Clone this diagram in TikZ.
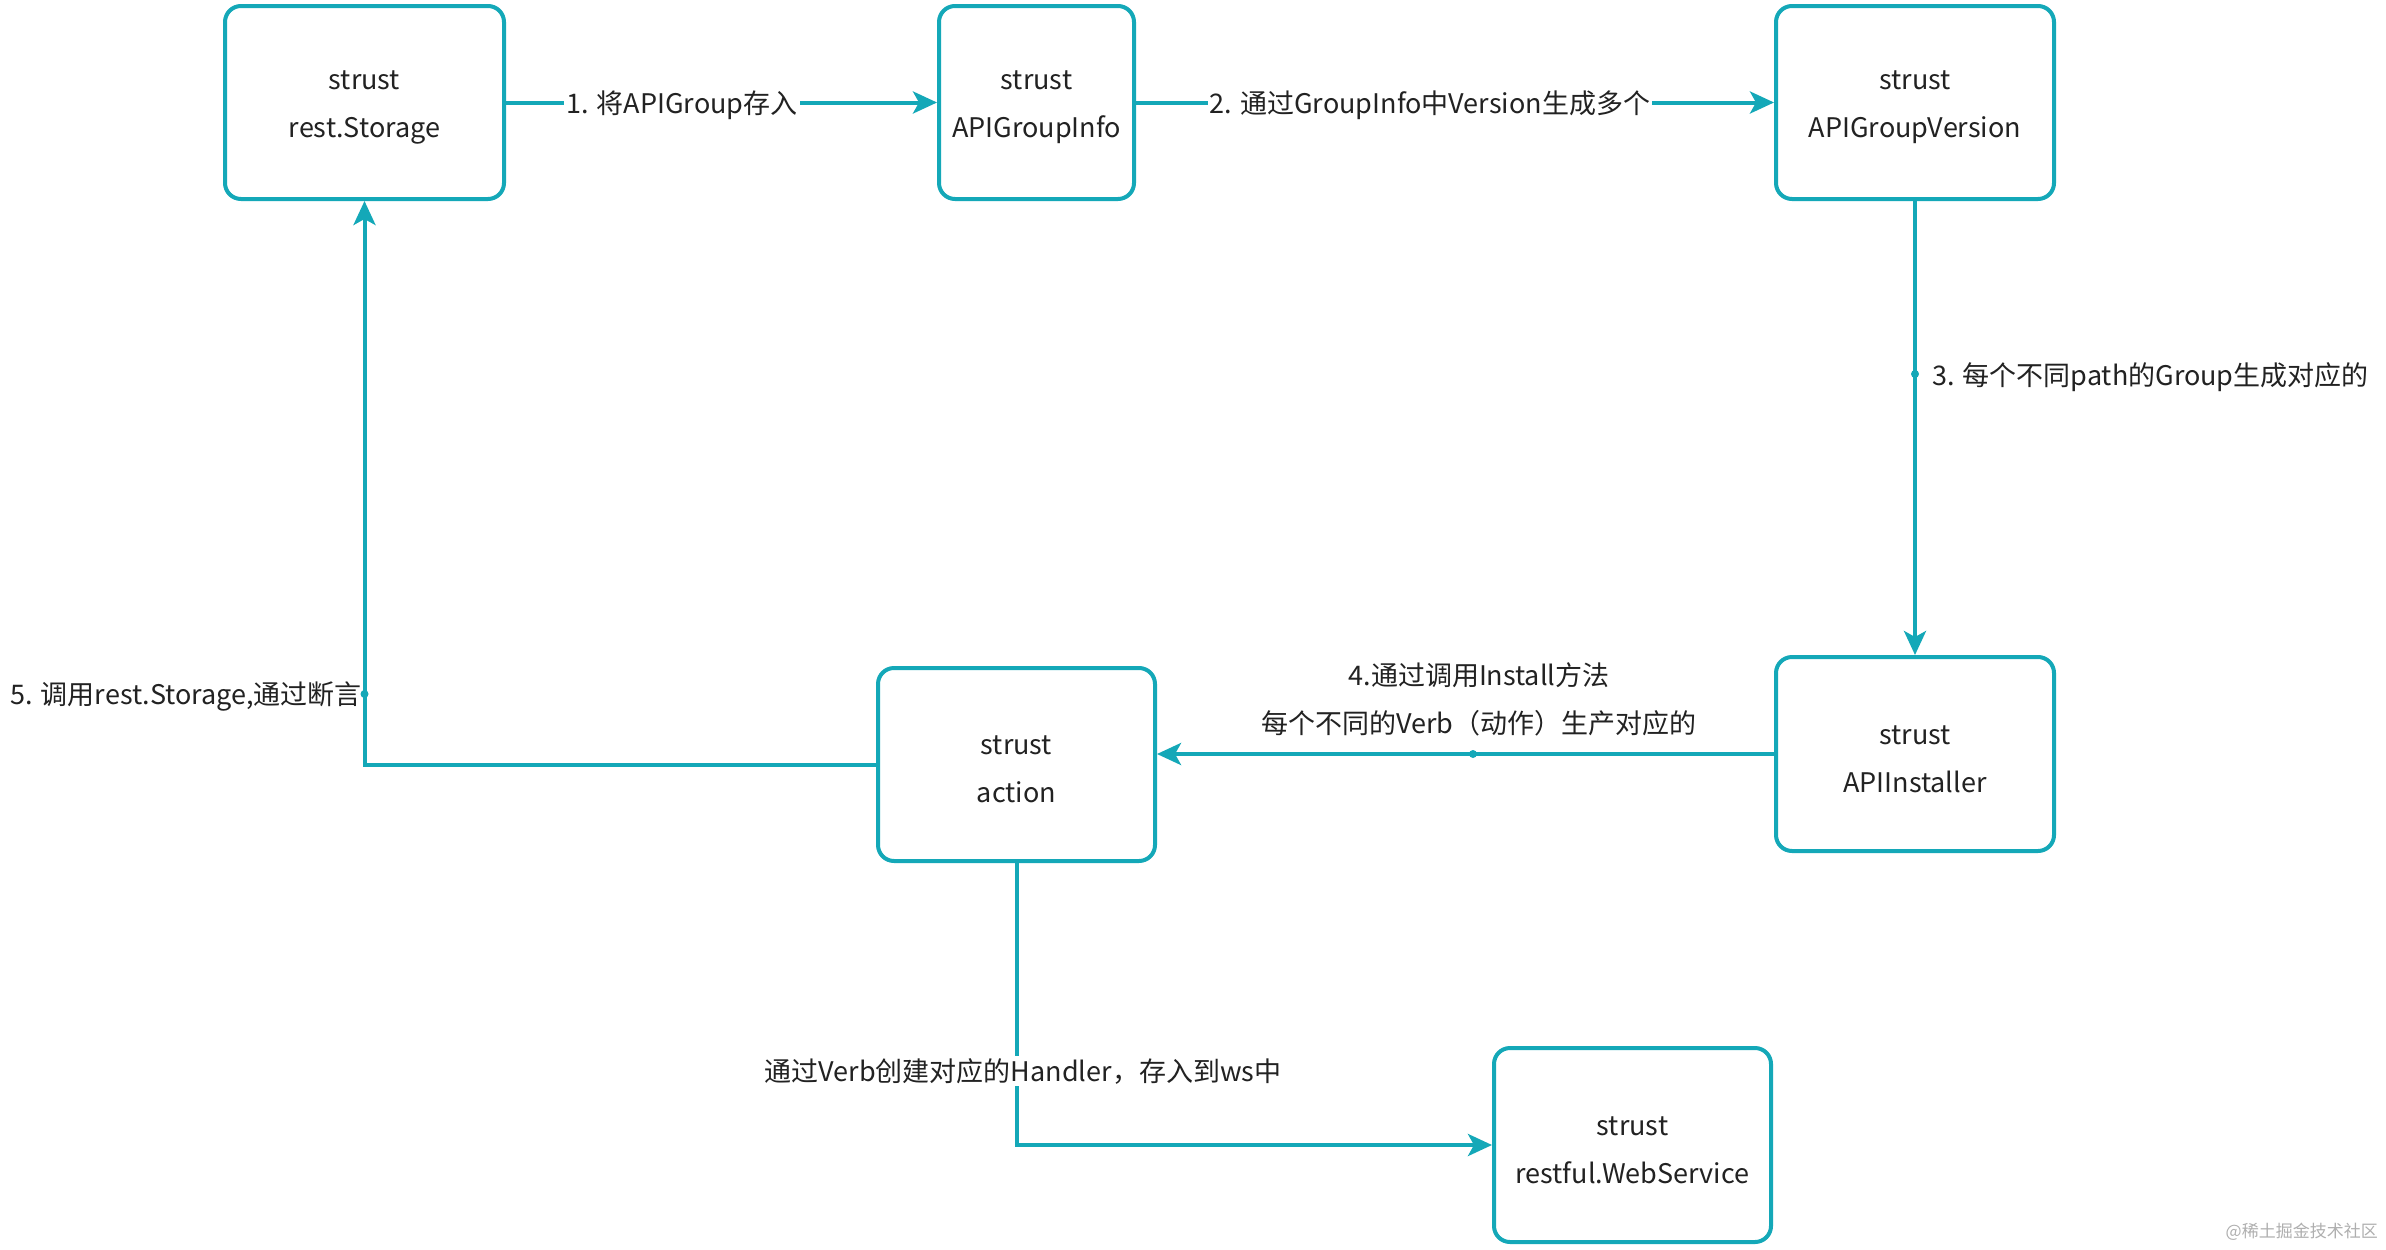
\documentclass[tikz,border=0pt]{standalone}
\usepackage{fontspec}
\setmainfont{Noto Sans CJK SC}
\usetikzlibrary{arrows.meta}
\definecolor{myteal}{RGB}{20,168,184}
\definecolor{txt}{RGB}{34,34,34}
\definecolor{wmark}{RGB}{175,175,175}
\newcommand{\toppad}{\rule{0pt}{29pt}}
\begin{document}
\begin{tikzpicture}[x=1pt,y=-1pt,
  box/.style={draw=myteal, line width=4pt, rounded corners=16pt, minimum height=193pt,
    align=center, font=\fontsize{27}{48}\selectfont, text=txt, inner sep=0pt},
  conn/.style={draw=myteal, line width=4pt, -{Stealth[length=24pt,width=22pt,inset=6pt]}},
  lbl/.style={font=\fontsize{27}{48}\selectfont, text=txt, fill=white, inner sep=2pt, yshift=-3pt},
  plainlbl/.style={font=\fontsize{27}{48}\selectfont, text=txt, inner sep=0pt, align=center, yshift=-3pt},
  dotmark/.style={circle, fill=myteal, inner sep=0pt, minimum size=8pt}]
\useasboundingbox (0,0) rectangle (2386,1250);
\fill[white] (0,0) rectangle (2386,1250);

\node[box, minimum width=279pt] (A) at (364.5,102.5) {\toppad strust\\rest.Storage};
\node[box, minimum width=195pt] (B) at (1036.5,102.5) {\toppad strust\\APIGroupInfo};
\node[box, minimum width=278pt] (C) at (1915,102.5) {\toppad strust\\APIGroupVersion};
\node[box, minimum width=278pt, minimum height=194pt] (D) at (1915,754) {\toppad strust\\APIInstaller};
\node[box, minimum width=277pt] (E) at (1016.5,764.5) {\toppad strust\\action};
\node[box, minimum width=277pt, minimum height=194pt] (F) at (1632.5,1145) {\toppad strust\\restful.WebService};

% 1
\draw[conn] (A.east) -- (B.west);
\node[lbl] (l1) at (682,102) {1. 将APIGroup存入};
% 2
\draw[conn] (B.east) -- (C.west);
\node[lbl] (l2) at (1430,102) {2. 通过GroupInfo中Version生成多个};
% 3
\draw[conn] (C.south) -- (D.north);
\node[dotmark] (d3) at (1915,374) {};
\node[plainlbl, anchor=west] (l3) at (1932,374) {3. 每个不同path的Group生成对应的};
% 4
\draw[conn] (D.west) -- (D.west -| E.east);
\node[dotmark] (d4) at (1473,754) {};
\node[plainlbl] (l4) at (1479,696) {4.通过调用Install方法\\每个不同的Verb（动作）生产对应的};
% 5
\draw[conn] (E.west) -| (A.south);
\node[dotmark] (d5) at (364.5,694) {};
\node[plainlbl, anchor=east] (l5) at (362,694) {5. 调用rest.Storage,通过断言};
% 6
\draw[conn] (E.south) |- (F.west);
\node[lbl] (l6) at (1023,1068) {通过Verb创建对应的Handler，存入到ws中};

\node[font=\fontsize{17}{20}\selectfont, text=wmark, anchor=east, inner sep=0pt] (wm) at (2378,1232) {@稀土掘金技术社区};
\end{tikzpicture}
\end{document}
